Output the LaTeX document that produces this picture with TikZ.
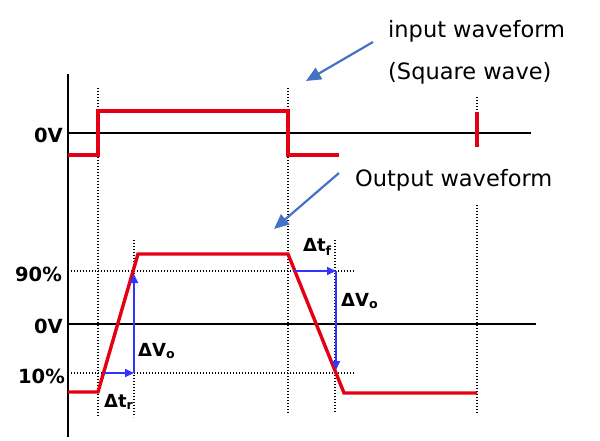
\documentclass[tikz,border=0pt]{standalone}
\usepackage{fontspec}
\setmainfont{DejaVu Sans}
\usetikzlibrary{arrows.meta}

\definecolor{wavered}{RGB}{228,0,18}
\definecolor{deltablue}{RGB}{51,51,255}
\definecolor{pointblue}{RGB}{68,114,196}

\tikzset{
	axisline/.style={line width=2.4pt, black},
	guide/.style={line width=1.2pt, black, dash pattern=on 1.2pt off 1.8pt},
	wave/.style={line width=3.4pt, wavered, line join=miter},
	delta/.style={line width=2.2pt, deltablue, -{Triangle[length=9pt,width=8pt]}},
	pointer/.style={line width=2.2pt, pointblue, -{Triangle[length=15pt,width=13pt]}},
	level/.style={font=\bfseries\fontsize{19.5}{22}\selectfont, anchor=east, inner sep=1pt},
	dlabel/.style={font=\bfseries\fontsize{18}{20}\selectfont, anchor=west, inner sep=1pt},
	note/.style={font=\fontsize{22.5}{26}\selectfont, anchor=west, inner sep=1pt}
}

\begin{document}
\begin{tikzpicture}[x=1pt,y=-1pt]
	\useasboundingbox (0,0) rectangle (600,441);
	
	% Draw vertical axis and both 0V lines
	\draw[axisline] (68,74) -- (68,437);
	\draw[axisline] (68,133) -- (531,133);
	\draw[axisline] (68,324) -- (536,324);
	
	% Draw dotted guides
	\foreach \x/\ya/\yb in {98/88/417, 288/88/413, 134/240/417, 335/240/413, 477/205/413}
	\draw[guide] (\x,\ya) -- (\x,\yb);
	\draw[guide] (477,97) -- (477,112);
	\draw[guide] (68,271) -- (354,271);
	\draw[guide] (68,373) -- (354,373);
	
	% Level labels
	\node[level] (zeroin) at (64,135) {0V};
	\node[level] (ninety) at (63,274) {90\%};
	\node[level] (zeroout) at (64,326) {0V};
	\node[level] (ten) at (66,376) {10\%};
	
	% Draw input waveform (square wave)
	\draw[wave] (68,155) -- (98,155) -- (98,111) -- (288,111) -- (288,155) -- (339,155);
	\draw[wave] (477,112) -- (477,147);
	
	% Draw output waveform
	\draw[wave] (68,392) -- (98,392) -- (138,254) -- (288,254) -- (344,393) -- (477,393);
	
	% Rise time and fall time arrows
	\coordinate (R1) at (104,373);
	\coordinate (R2) at (134,373);
	\coordinate (R3) at (134,274);
	\coordinate (F1) at (294,271);
	\coordinate (F2) at (336,271);
	\coordinate (F3) at (336,370);
	\draw[delta] (R1) -- (R2);
	\draw[delta] (R2) -- (R3);
	\draw[delta] (F1) -- (F2);
	\draw[delta] (F2) -- (F3);
	
	\node[dlabel] (dtr) at (103,402) {Δt\textsubscript{r}};
	\node[dlabel] (dvr) at (137,351) {ΔV\textsubscript{o}};
	\node[dlabel] (dtf) at (302,247) {Δt\textsubscript{f}};
	\node[dlabel] (dvf) at (340,301) {ΔV\textsubscript{o}};
	
	% Notes with pointers
	\node[note] (inname) at (387,31) {input waveform};
	\node[note] (insub) at (387,73) {(Square wave)};
	\node[note] (outname) at (354,180) {Output waveform};
	
	\coordinate (inbase) at (373,42);
	\coordinate (intip) at (306,81);
	\coordinate (outbase) at (339,173);
	\coordinate (outtip) at (274,229);
	\draw[pointer] (inbase) -- (intip);
	\draw[pointer] (outbase) -- (outtip);
\end{tikzpicture}
\end{document}
